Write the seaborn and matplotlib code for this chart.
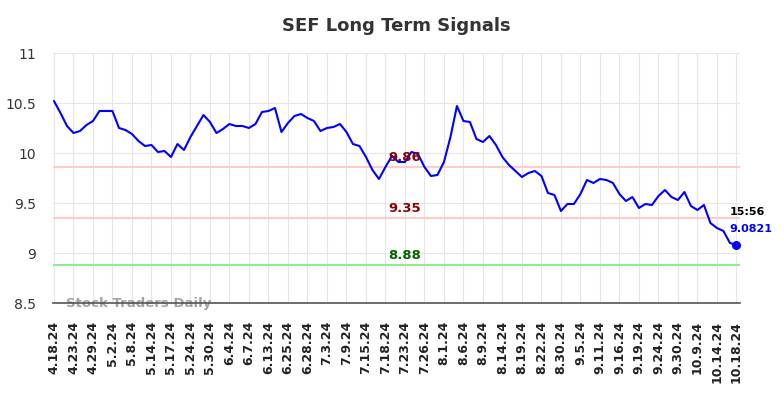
import numpy as np
import pandas as pd
import matplotlib
matplotlib.use("Agg")
import matplotlib.pyplot as plt
import seaborn as sns

# closing prices, one per trading session shown
prices = [
    10.52, 10.40, 10.27, 10.20, 10.22, 10.28, 10.32, 10.42, 10.42, 10.42,
    10.25, 10.23, 10.19, 10.12, 10.07, 10.08, 10.01, 10.02, 9.96, 10.09,
    10.03, 10.16, 10.27, 10.38, 10.31, 10.20, 10.24, 10.29, 10.27, 10.27,
    10.25, 10.29, 10.41, 10.42, 10.45, 10.21, 10.30, 10.37, 10.39, 10.35,
    10.32, 10.22, 10.25, 10.26, 10.29, 10.21, 10.09, 10.07, 9.96, 9.83,
    9.74, 9.86, 9.97, 9.91, 9.91, 10.01, 9.99, 9.86, 9.77, 9.78,
    9.91, 10.16, 10.47, 10.32, 10.31, 10.14, 10.11, 10.17, 10.08, 9.96,
    9.88, 9.82, 9.76, 9.80, 9.82, 9.77, 9.60, 9.58, 9.42, 9.49,
    9.49, 9.59, 9.73, 9.70, 9.74, 9.73, 9.70, 9.59, 9.52, 9.56,
    9.45, 9.49, 9.48, 9.57, 9.63, 9.56, 9.53, 9.61, 9.47, 9.43,
    9.48, 9.30, 9.25, 9.22, 9.10, 9.0821,
]

tick_labels = [
    "4.18.24", "4.23.24", "4.29.24", "5.2.24", "5.8.24", "5.14.24", "5.17.24",
    "5.24.24", "5.30.24", "6.4.24", "6.7.24", "6.13.24", "6.25.24", "6.28.24",
    "7.3.24", "7.9.24", "7.15.24", "7.18.24", "7.23.24", "7.26.24", "8.1.24",
    "8.6.24", "8.9.24", "8.14.24", "8.19.24", "8.22.24", "8.30.24", "9.5.24",
    "9.11.24", "9.16.24", "9.19.24", "9.24.24", "9.30.24", "10.9.24",
    "10.14.24", "10.18.24",
]
tick_step = 3

signal_levels = [9.86, 9.35, 8.88]
signal_line_colors = ["#ffcccc", "#ffcccc", "#90ee90"]
signal_text_colors = ["darkred", "darkred", "darkgreen"]

last_time = "15:56"

df = pd.DataFrame({"idx": np.arange(len(prices)), "price": prices})

sns.set_style("whitegrid", {"grid.color": "#e6e6e6"})
fig = plt.figure(figsize=(7.84, 3.98), dpi=100)
ax = fig.add_axes([53 / 784, 1 - 303 / 398, 687 / 784, 250 / 398])

for lvl, lc in zip(signal_levels, signal_line_colors):
    ax.axhline(lvl, color=lc, lw=1.5, zorder=1)

sns.lineplot(data=df, x="idx", y="price", color="blue", lw=1.5, ax=ax, zorder=3)

label_x = 53.9
for lvl, tc in zip(signal_levels, signal_text_colors):
    ax.text(label_x, lvl + 0.03, f"{lvl:.2f}", color=tc, fontsize=9.5,
            fontweight="bold", ha="center", va="bottom", zorder=4)

last_i = len(prices) - 1
ax.scatter([last_i], [prices[-1]], color="blue", s=30, zorder=5)
ax.annotate(last_time, (last_i, prices[-1]), xytext=(-5, 20),
            textcoords="offset points", fontsize=8, fontweight="bold",
            color="black", ha="left", va="bottom")
ax.annotate(f"{prices[-1]:.4f}", (last_i, prices[-1]), xytext=(-5, 8),
            textcoords="offset points", fontsize=8, fontweight="bold",
            color="blue", ha="left", va="bottom")

ax.text(1.85, 8.5, "Stock Traders Daily", fontsize=9.5, fontweight="bold",
        color="#999999", alpha=0.9, ha="left", va="center", zorder=2)

ax.set_xlim(-0.15, 105.55)
ax.set_ylim(8.5, 11)
ax.set_xticks(np.arange(0, len(prices), tick_step))
ax.set_xticklabels(tick_labels, rotation=90, fontsize=9, fontweight="bold",
                   color="#222222")
ax.set_yticks([8.5, 9, 9.5, 10, 10.5, 11])
ax.set_yticklabels(["8.5", "9", "9.5", "10", "10.5", "11"], fontsize=10,
                   color="#333333")
ax.tick_params(axis="x", length=0, pad=13)
ax.tick_params(axis="y", length=0, pad=12)
ax.set_xlabel("")
ax.set_ylabel("")
for s in ["top", "right", "left"]:
    ax.spines[s].set_visible(False)
ax.spines["bottom"].set_color("#555555")
ax.spines["bottom"].set_linewidth(1.2)

fig.suptitle("SEF Long Term Signals", x=(53 + 740) / 2 / 784, y=1 - 26 / 398,
             va="center", fontsize=13, fontweight="bold", color="#333333")

fig.savefig("out.png", dpi=100)
